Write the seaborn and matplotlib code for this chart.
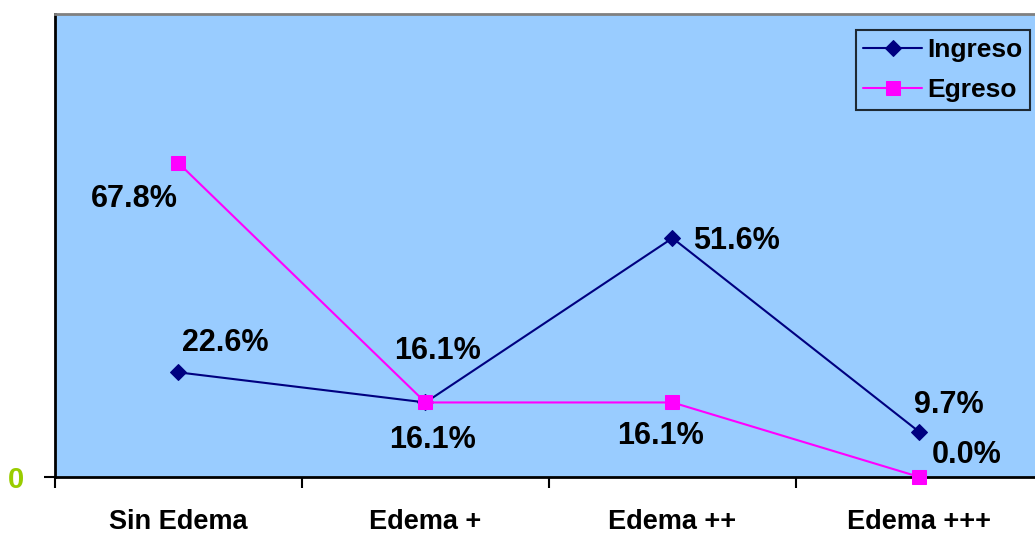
import matplotlib
matplotlib.use("Agg")
import matplotlib.pyplot as plt
import seaborn as sns
import pandas as pd

categories = ["Sin Edema", "Edema +", "Edema ++", "Edema +++"]
ingreso = [22.6, 16.1, 51.6, 9.7]
egreso = [67.8, 16.1, 16.1, 0.0]
series_names = ["Ingreso", "Egreso"]

sns.set_theme(style="white")
plt.rcParams['font.family'] = ['Liberation Sans', 'DejaVu Sans']

df = pd.DataFrame({
    "cat": categories * 2,
    "x": list(range(len(categories))) * 2,
    "val": ingreso + egreso,
    "serie": [series_names[0]] * 4 + [series_names[1]] * 4,
})

fig = plt.figure(figsize=(10.35, 5.33), dpi=100)
ax = fig.add_axes([55/1035, 1 - 477/533, (1043-55)/1035, (477-14)/533])
ax.set_facecolor("#99CCFF")

palette = {"Ingreso": "#000080", "Egreso": "#FF00FF"}
markers = {"Ingreso": "D", "Egreso": "s"}
sizes = {"Ingreso": 8, "Egreso": 10}
for s in series_names:
    d = df[df.serie == s]
    sns.lineplot(data=d, x="x", y="val", ax=ax, color=palette[s], marker=markers[s],
                 markersize=sizes[s], markeredgecolor=palette[s], linewidth=1.5,
                 label=s, clip_on=False, zorder=3)

ax.set_xlim(-0.5, 3.5)
ax.set_ylim(0, 100)
ax.set_xlabel("")
ax.set_ylabel("")

# data labels
offs_in = [(0.19, 6.4), (0.05, 11.2), (0.26, -0.6), (0.12, 5.9)]
offs_eg = [(-0.18, -7.7), (0.03, -8.1), (-0.05, -7.2), (0.19, 4.8)]
for i, v in enumerate(ingreso):
    dx, dy = offs_in[i]
    ax.text(i + dx, v + dy, f"{v:.1f}%", ha="center", va="center",
            fontsize=22, fontweight="bold", color="black")
for i, v in enumerate(egreso):
    dx, dy = offs_eg[i]
    ax.text(i + dx, v + dy, f"{v:.1f}%", ha="center", va="center",
            fontsize=22, fontweight="bold", color="black")

ax.set_xticks([-0.5, 0.5, 1.5, 2.5, 3.5])
ax.set_xticklabels([])
ax.set_xticks([0, 1, 2, 3], minor=True)
ax.set_xticklabels(categories, minor=True, fontsize=19.5, fontweight="bold", color="black")
ax.tick_params(axis="x", which="major", direction="out", length=8, width=1.5, color="black", bottom=True)
ax.tick_params(axis="x", which="minor", length=0, pad=23)
ax.set_yticks([0])
ax.set_yticklabels(["0"], fontsize=21, fontweight="bold", color="#99CC00")
ax.tick_params(axis="y", direction="out", length=8, width=1.5, color="black", left=True, pad=14)

for side in ["left", "bottom"]:
    ax.spines[side].set_color("black")
    ax.spines[side].set_linewidth(2)
ax.spines["top"].set_color("#808080")
ax.spines["top"].set_linewidth(2)
ax.spines["right"].set_visible(False)

leg = ax.legend(loc="upper right", bbox_to_anchor=((1030-55)/(1043-55), (477-30)/(477-14)),
                frameon=True, fancybox=False, facecolor="#99CCFF", edgecolor="black",
                prop={"weight": "bold", "size": 19}, labelcolor="black",
                handlelength=2.2, borderpad=0.3, labelspacing=0.62, handletextpad=0.2,
                borderaxespad=0)
leg.get_frame().set_linewidth(1.5)

fig.savefig("out.png", dpi=100)
